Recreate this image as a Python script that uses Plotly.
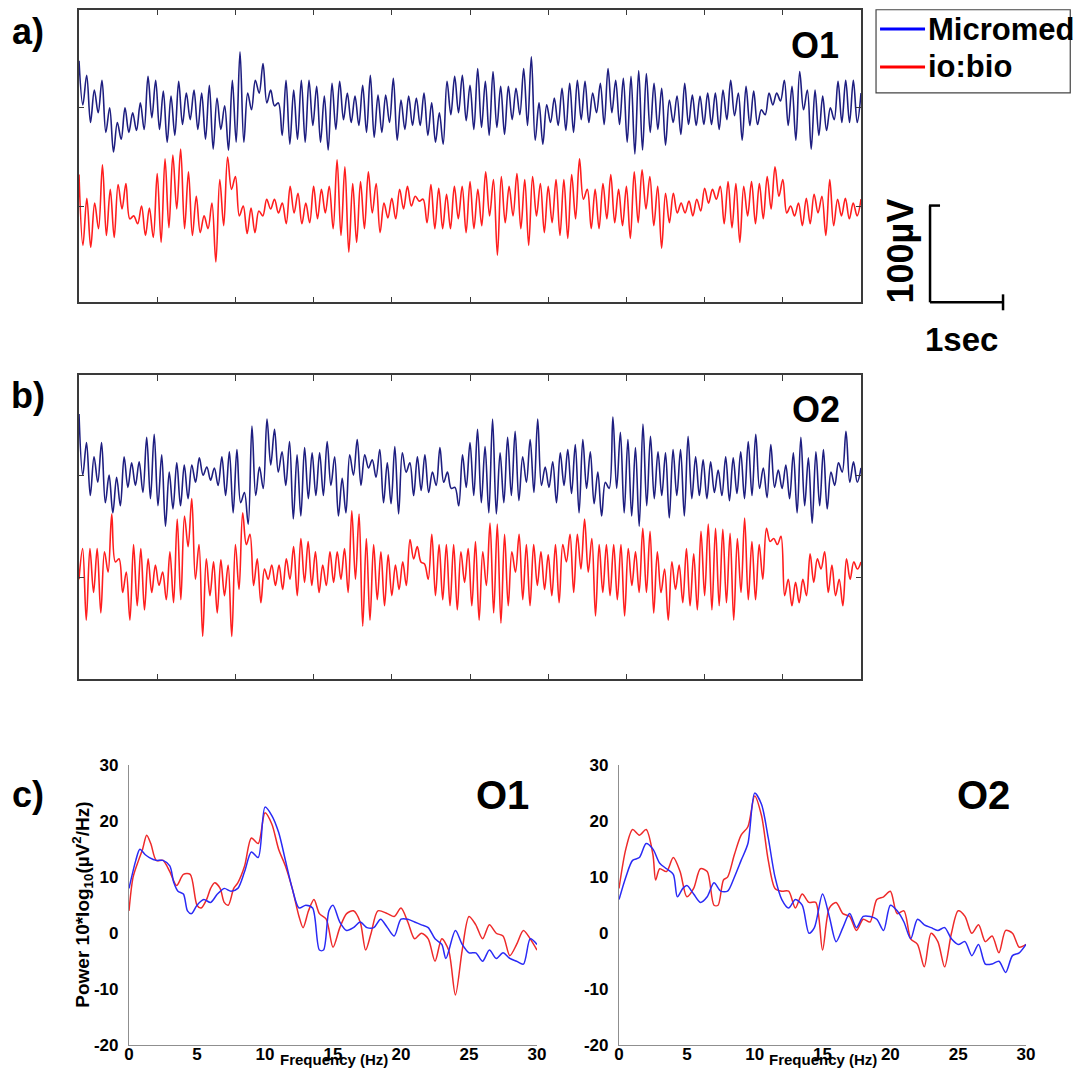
import numpy as np
import plotly.graph_objects as go

# ---------------- DATA ----------------
# EEG traces (alternating peak / trough values, µV relative to each trace's baseline), 10 s each
o1_micromed = [48,3,33,-15,18,-5,28,-25,0,-45,-15,-32,0,-25,-5,-23,5,-22,32,-10,28,-22,17,-35,12,-28,27,-17,15,-12,18,-22,15,-32,23,-42,10,-22,2,-43,28,-35,57,-35,15,-2,28,15,45,5,18,2,5,-28,28,-37,18,-32,28,-35,28,-18,22,-35,12,-43,
               25,-22,27,-12,15,-15,12,-18,23,-25,33,-30,13,-25,13,-15,30,-33,8,-22,12,-18,10,-18,15,-28,5,-35,-5,-37,27,-7,32,-5,33,-13,23,-22,40,-20,27,-28,37,-20,22,-27,22,-12,20,-7,40,-18,52,-33,5,-37,3,-15,10,-18,20,-23,25,-25,28,-12,27,-15,
               15,-5,25,-17,40,-5,28,-17,30,-35,32,-47,38,-43,35,-25,25,-22,20,-38,8,-15,12,-27,25,-17,13,-18,12,-17,15,-17,15,-22,18,-12,28,-8,15,-33,22,-18,17,-17,-2,-7,15,3,15,7,28,-18,22,-33,37,-2,18,-42,18,-28,12,-23,0,-12,27,-15,28,-15,28,-15,15]
o1_iobio = [32,-40,8,-42,3,-23,42,-30,17,-32,22,-3,23,-13,-10,-18,0,-30,-2,-32,33,-37,48,-22,52,-3,58,-23,35,-30,10,-27,-10,-23,3,-57,27,-20,50,17,30,-10,0,-28,-2,-27,-5,-10,7,-3,7,-7,3,-18,20,-7,13,-18,3,-17,20,-13,17,-7,20,
            -23,47,-30,40,-47,23,-37,25,-23,35,-7,23,-27,3,-12,8,-13,17,-3,20,0,10,5,7,-17,22,-23,18,-23,12,-23,20,-13,20,-27,25,-23,17,-20,35,-10,27,-50,30,-17,20,-10,33,-23,27,-40,30,-10,23,-27,20,-17,27,-30,27,-33,32,-13,48,7,17,-23,
            17,-23,23,-13,32,-17,17,-20,20,-33,35,-17,37,-3,30,-20,20,-43,13,-17,13,-7,3,-7,5,-10,7,-5,18,3,17,7,20,-18,25,-22,23,-37,20,-10,25,-18,23,-13,30,-3,40,10,27,-7,0,-10,3,-20,8,-18,12,-7,10,-30,27,-20,7,-10,8,-13,3,-10,7]
o2_micromed = [60,0,32,-20,18,-7,32,-27,0,-37,-2,-30,18,-12,12,-10,13,-17,37,-23,40,-30,20,-50,3,-33,12,-30,10,-23,10,-7,17,0,8,-5,7,-10,18,-20,23,-37,25,-27,-17,-48,48,-20,8,-13,55,10,45,3,23,-10,33,-43,20,-40,27,-23,22,-20,22,-20,33,-10,18,-40,-3,
               -37,20,0,35,-10,20,7,15,-2,25,-27,12,-28,28,-38,22,3,12,-20,18,-15,20,-17,3,-10,27,-7,3,-13,-12,-30,20,-12,32,-20,45,-27,28,-37,55,-38,22,-27,37,-20,43,-25,18,-7,35,-17,55,-10,8,-12,13,-27,22,-10,25,-18,30,-37,35,-13,23,-28,3,-40,
               -7,-13,57,-13,42,-37,35,-40,27,-50,50,-30,38,-23,23,-20,22,-42,25,-20,25,-40,38,-23,18,-20,15,-23,13,-17,5,-20,18,-25,17,-18,23,-23,33,-20,40,-13,7,-22,30,-12,5,-13,10,-23,22,-37,37,-30,17,-47,23,-30,25,-33,3,-10,12,3,43,-7,13,-7,7]
o2_iobio = [-2,28,-42,28,-15,28,-35,25,5,62,15,18,-15,5,-42,32,-28,28,-32,18,-15,12,-8,5,-22,25,-25,57,-22,60,30,77,-2,32,-58,18,-18,15,-35,17,-18,12,-58,32,-12,63,32,42,-8,18,-25,8,-2,12,-8,12,-12,18,-2,30,-18,38,-5,35,-8,25,-15,12,-8,25,-5,25,-2,28,-15,
            65,-2,62,-48,38,-42,32,-22,25,-28,22,-18,12,-12,15,-8,37,18,30,15,13,-2,42,-18,32,-22,32,-28,32,-32,25,-5,28,-28,35,-42,25,-8,53,-35,52,-45,42,-28,25,5,42,-22,32,-28,32,-8,25,-12,22,-18,32,-25,32,15,42,-15,42,8,57,5,38,-38,
            32,-15,32,-18,32,-22,32,-38,28,-8,25,-15,48,-15,45,-35,25,-15,8,-42,15,-12,12,-25,28,-28,23,-32,45,-18,52,-32,48,-28,47,-25,43,-42,38,-15,58,-22,35,-22,32,-2,48,35,38,32,40,-18,-2,-28,-5,-25,-2,-18,23,-5,18,8,25,-15,12,-18,-2,-28,18,-2,15,8,15]
eeg_duration_s = 10

# Power spectra (dB = 10*log10(µV^2/Hz))
o1_micromed_f = [0,0.5,0.8,1.2,1.5,2,2.5,3,3.3,3.6,4,4.3,4.6,5,5.5,6,6.5,7,7.5,8,8.5,9,9.5,10,10.5,11,11.5,12,12.5,13,13.5,14,14.3,14.7,15,15.5,16,16.5,17,17.5,18,18.5,19,19.5,20,20.5,21,21.5,22,22.5,23,23.3,24,24.5,25,25.5,26,26.5,27,27.5,28,28.5,29,29.5,30]
o1_micromed_p = [8,13,15,14,13.5,13,13,12,9,7.5,7,4,3.5,5,6,5.5,7,8,7.5,8,11,14.5,13.5,22.5,21,18,13,8,4.5,5,4.5,-3,-3,4,5,2,0.5,1,2,1,1,2.5,1,-0.5,2.5,2.5,2,1.5,1,-1,-2,-4.5,0.5,-2,-3.5,-3.5,-5,-3,-4.5,-3.5,-4.5,-5,-5.5,-1,-2]
o1_iobio_f = [0,0.3,0.7,1,1.3,1.6,2,2.5,3,3.5,4,4.5,5,5.3,5.7,6,6.3,6.7,7,7.3,7.7,8,8.5,9,9.5,10,10.5,11,11.5,12,12.5,12.8,13.2,13.6,14,14.5,15,15.5,16,16.5,17,17.4,17.8,18.3,19,19.5,20,20.5,21,21.5,22,22.5,23,23.5,24,24.5,25,25.5,26,26.5,27,27.5,28,28.5,29,29.5,30]
o1_iobio_p = [4,10,13,15,17.5,16,13,13,11,8.5,10.5,10.5,5,4.5,6,8,9,8,5.5,5,8,9,12,17,16,21.5,19.5,15,12,8,3,1,4,6,3.5,2.5,-2.5,1,3.5,4,2,-3,0,4,3.5,3,4.5,2,-1,0,-1,-5,-1,-3,-11,-3,3,1.5,-1,1.5,0,-0.5,-4,-2,0.5,-1,-3]
o2_micromed_f = [0,0.5,1,1.5,2,2.5,3,3.5,4,4.3,4.7,5,5.5,6,6.5,7,7.5,8,8.5,9,9.5,10,10.5,11,11.5,12,12.5,13,13.5,14,14.4,15,15.5,16,16.5,17,17.5,18,18.5,19,19.5,20,20.5,21,21.5,22,22.5,23,23.5,24,24.5,25,25.5,26,26.5,27,27.5,28,28.5,29,29.5,30]
o2_micromed_p = [6,10,13,13.5,16,15,12.5,11.5,10.5,6.5,8,8.5,7,5.5,6.5,9,7.5,7.5,10,13,16,25,23,17,10,6,4.5,6,5,0,1,7,3,-1.5,1,3.5,1,3,3,2.5,0.5,5,4,2,-1,2.5,1.5,1,0.5,1,-1,-2,-1.5,-4,-2,-5.5,-5.5,-5,-7,-4,-3.5,-2]
o2_iobio_f = [0,0.5,1,1.5,2,2.5,2.7,3,3.5,4,4.5,5,5.5,6,6.5,7,7.3,7.7,8,8.5,9,9.5,10,10.5,11,11.5,12,12.5,13,13.5,14,14.5,15,15.5,16,16.5,17,17.5,18,18.5,19,19.5,20,20.5,21,21.5,22,22.5,23,23.5,24,24.5,25,25.5,26,26.5,27,27.5,28,28.5,29,29.5,30]
o2_iobio_p = [8,15,18.5,17.5,18.5,14,9.5,11.5,11,13.5,11,6.5,8,11.5,11,5,5,9.5,10,14,17.5,19,24.5,21,13,8,7.5,7.5,4.5,7,5.5,5.5,-3,4.5,5.5,3.5,3,0.5,2.5,2,6,6.5,7.5,3.5,4,-1,-2,-6,0,-1.5,-6,0,4,3,0,1.5,-1.5,-0.5,-3.5,0.5,0,-2.5,-2]

series_names = ["Micromed", "io:bio"]
freq_ticks = [0, 5, 10, 15, 20, 25, 30]
power_ticks = [-20, -10, 0, 10, 20, 30]

# ---------------- STYLE / LAYOUT ----------------
W, H = 1080, 1078
# observed page placement of the figure in the photographed window (offset + scale)
SX, OX = 0.987, 5.0
SY, OY = 0.985, 7.9
def fx(t): return ((t - OX) / SX) / W          # target picture pixel -> paper fraction
def fy(t): return 1 - ((t - OY) / SY) / H

TRACE_OFFSET = 100  # vertical separation between stacked EEG traces (µV)
NAVY = "#1e1e80"
RED_EEG = "#ff1e1e"
BLUE_PSD = "#2a2af5"
RED_PSD = "#ee2a2a"
BOLD = "Liberation Sans, Arial, sans-serif"

fig = go.Figure()

def eeg(values, ax, color, offset):
    t = np.linspace(0, eeg_duration_s, len(values))
    fig.add_trace(go.Scatter(x=t, y=np.array(values) + offset, mode="lines",
                             xaxis="x" + ax, yaxis="y" + ax, showlegend=False, hoverinfo="skip",
                             line=dict(color=color, width=1.6, shape="spline", smoothing=1.0)))

eeg(o1_micromed, "", NAVY, TRACE_OFFSET)
eeg(o1_iobio, "", RED_EEG, 0)
eeg(o2_micromed, "2", NAVY, TRACE_OFFSET)
eeg(o2_iobio, "2", RED_EEG, 0)

def psd(f, p, ax, color, name):
    fig.add_trace(go.Scatter(x=f, y=p, mode="lines", xaxis="x" + ax, yaxis="y" + ax,
                             name=name, showlegend=False, hoverinfo="skip",
                             line=dict(color=color, width=1.5, shape="spline", smoothing=0.8)))

psd(o1_iobio_f, o1_iobio_p, "3", RED_PSD, series_names[1])
psd(o1_micromed_f, o1_micromed_p, "3", BLUE_PSD, series_names[0])
psd(o2_iobio_f, o2_iobio_p, "4", RED_PSD, series_names[1])
psd(o2_micromed_f, o2_micromed_p, "4", BLUE_PSD, series_names[0])

box_x = dict(range=[0, eeg_duration_s], dtick=1, showline=True, mirror="ticks", linecolor="#3a3a3a",
             linewidth=1.5, ticks="inside", ticklen=6, tickcolor="#3a3a3a", showticklabels=False,
             showgrid=False, zeroline=False, fixedrange=True)
box_y = dict(tickvals=[0, TRACE_OFFSET], showline=True, mirror="ticks", linecolor="#3a3a3a",
             linewidth=1.5, ticks="inside", ticklen=5, tickcolor="#3a3a3a", showticklabels=False,
             showgrid=False, zeroline=False, fixedrange=True)

tickf = dict(family=BOLD, size=17, color="black")
psd_x = dict(range=[0, 30], tickvals=freq_ticks, ticktext=["<b>%d</b>" % v for v in freq_ticks],
             showline=True, linecolor="#8f8f8f", linewidth=1.3, ticks="", ticklabelstandoff=-7,
             tickfont=tickf, showgrid=False, zeroline=False, fixedrange=True)
psd_y = dict(range=[-20, 30], tickvals=power_ticks, ticktext=["<b>%d</b>" % v for v in power_ticks],
             showline=True, linecolor="#8f8f8f", linewidth=1.3,
             ticks="outside", ticklen=6, tickcolor="rgba(0,0,0,0)", tickfont=tickf,
             showgrid=False, zeroline=False, fixedrange=True)

fig.update_layout(
    width=W, height=H, margin=dict(l=0, r=0, t=0, b=0),
    paper_bgcolor="white", plot_bgcolor="white",
    font=dict(family=BOLD, color="black"),
    showlegend=False,
    xaxis=dict(box_x, domain=[fx(79), fx(861)], anchor="y"),
    yaxis=dict(box_y, domain=[fy(302), min(1.0, fy(8.5))], range=[-98, 200], anchor="x"),
    xaxis2=dict(box_x, domain=[fx(79), fx(861)], anchor="y2"),
    yaxis2=dict(box_y, domain=[fy(680), fy(375)], range=[-100, 198], anchor="x2"),
    xaxis3=dict(psd_x, domain=[fx(129), fx(537)], anchor="y3"),
    yaxis3=dict(psd_y, domain=[fy(1047), fy(766)], anchor="x3"),
    xaxis4=dict(psd_x, domain=[fx(619), fx(1026)], anchor="y4"),
    yaxis4=dict(psd_y, domain=[fy(1047), fy(766)], anchor="x4"),
)

def label(text, x, y, size, angle=0, xanchor="center", yanchor="middle", ypaper=None):
    fig.add_annotation(text="<b>%s</b>" % text, x=fx(x), y=fy(y) if ypaper is None else ypaper,
                       xref="paper", yref="paper",
                       showarrow=False, xanchor=xanchor, yanchor=yanchor, textangle=angle,
                       font=dict(family=BOLD, size=size, color="black"))

label("a)", 28, 30, 36)
label("b)", 28, 395, 36)
label("c)", 28, 796, 36)
label("O1", 815, 44, 36)
label("O2", 816, 409, 36)
label("O1", 502, 796, 40)
label("O2", 983, 796, 40)
label("Frequency (Hz)", 334, 0, 15, yanchor="bottom", ypaper=-0.002)
label("Frequency (Hz)", 823, 0, 15, yanchor="bottom", ypaper=-0.002)
label("Power 10*log<sub>10</sub>(µV<sup>2</sup>/Hz)", 83, 906, 19, angle=-90)
label("100µV", 900, 251, 36, angle=-90)
label("1sec", 961, 339, 33)

# legend box (Micromed / io:bio)
def seg(x0, y0, x1, y1, color="black", width=2.5):
    fig.add_shape(type="line", xref="paper", yref="paper", x0=fx(x0), y0=fy(y0), x1=fx(x1), y1=fy(y1),
                  line=dict(color=color, width=width))

fig.add_shape(type="rect", xref="paper", yref="paper", x0=fx(876), y0=fy(92), x1=0.9993, y1=0.9993,
              line=dict(color="#444", width=1.2), fillcolor="white")
seg(880, 28, 925, 28, "#0000ff", 3)
seg(880, 66, 925, 66, "#ff0000", 3)
label(series_names[0], 926, 28, 31, xanchor="left")
label(series_names[1], 926, 66, 31, xanchor="left")

# scale bar: 100 µV / 1 s
seg(930, 205, 930, 302)
seg(930, 302, 1003, 302)
seg(929, 205, 940, 205)
seg(1003, 294, 1003, 310)

fig.write_html("out.html")
